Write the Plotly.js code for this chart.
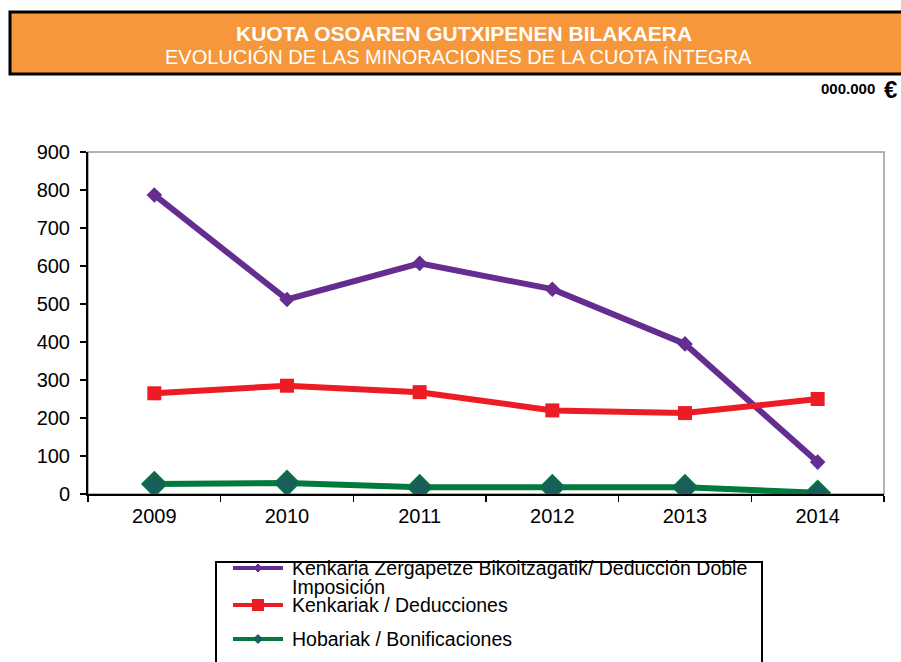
<!DOCTYPE html>
<html>
<head>
<meta charset="utf-8">
<script src="https://cdn.plot.ly/plotly-3.0.1.min.js"></script>
<style>html,body{margin:0;padding:0;background:#fff;}#chart{width:901px;height:662px;}</style>
</head>
<body>
<div id="chart"></div>
<script>
var years = ['2009', '2010', '2011', '2012', '2013', '2014'];
var dobleImposicion = [787, 512, 607, 539, 395, 84];
var deducciones = [265, 285, 268, 220, 213, 250];
var bonificaciones = [26, 29, 18, 18, 18, 3];
var seriesNames = [
  'Kenkaria Zergapetze Bikoitzagatik/ Deducción Doble',
  'Kenkariak / Deducciones',
  'Hobariak / Bonificaciones'
];
var seriesNameWrap = 'Imposición';
var seriesColors = ['#662D91', '#ED1C24', '#007A3D'];
var yTicks = [0, 100, 200, 300, 400, 500, 600, 700, 800, 900];

var FONT = 'Liberation Sans, Arial, sans-serif';

var traces = [
  {
    x: years, y: dobleImposicion, name: seriesNames[0], type: 'scatter', mode: 'lines+markers',
    line: {color: seriesColors[0], width: 6},
    marker: {symbol: 'diamond', size: 12, color: seriesColors[0]},
    showlegend: false
  },
  {
    x: years, y: deducciones, name: seriesNames[1], type: 'scatter', mode: 'lines+markers',
    line: {color: seriesColors[1], width: 6},
    marker: {symbol: 'square', size: 14, color: seriesColors[1]},
    showlegend: false
  },
  {
    x: years, y: bonificaciones, name: seriesNames[2], type: 'scatter', mode: 'lines+markers',
    line: {color: seriesColors[2], width: 6},
    marker: {symbol: 'diamond', size: 19, color: '#1A5E5C', line: {color: seriesColors[2], width: 1.5}},
    showlegend: false
  }
];

var L = 88, R = 884, T = 152, B = 494;
function px(v) { return (v - L) / (R - L); }
function py(v) { return (B - v) / (B - T); }

// Legend (drawn as a key box below the plot)
var legendRows = [568, 605, 639];
var shapes = [
  {type: 'rect', xref: 'paper', yref: 'paper', x0: 0, x1: 1, y0: 0, y1: 1,
   line: {color: '#999', width: 1.5}, layer: 'below'},
  {type: 'rect', xref: 'paper', yref: 'paper', x0: px(10), x1: px(910), y0: py(74), y1: py(12),
   fillcolor: '#F6973B', line: {color: '#000', width: 3}, layer: 'below'},
  {type: 'rect', xref: 'paper', yref: 'paper', x0: px(216), x1: px(762), y0: py(675), y1: py(562),
   fillcolor: '#fff', line: {color: '#000', width: 2}, layer: 'above'}
];
function diamondPath(cx, cy, r) {
  return 'M' + px(cx - r) + ',' + py(cy) + ' L' + px(cx) + ',' + py(cy - r) +
         ' L' + px(cx + r) + ',' + py(cy) + ' L' + px(cx) + ',' + py(cy + r) + ' Z';
}
legendRows.forEach(function (ry, i) {
  shapes.push({type: 'line', xref: 'paper', yref: 'paper', x0: px(233), x1: px(283), y0: py(ry), y1: py(ry),
               line: {color: seriesColors[i], width: 4}, layer: 'above'});
});
shapes.push({type: 'path', xref: 'paper', yref: 'paper', path: diamondPath(258, legendRows[0], 4),
             fillcolor: seriesColors[0], line: {color: seriesColors[0], width: 1}, layer: 'above'});
shapes.push({type: 'rect', xref: 'paper', yref: 'paper', x0: px(252), x1: px(264),
             y0: py(legendRows[1] + 6), y1: py(legendRows[1] - 6),
             fillcolor: seriesColors[1], line: {color: seriesColors[1], width: 0}, layer: 'above'});
shapes.push({type: 'path', xref: 'paper', yref: 'paper', path: diamondPath(258, legendRows[2], 4.5),
             fillcolor: '#1A5E5C', line: {color: '#1A5E5C', width: 1}, layer: 'above'});

var annotations = [
  {xref: 'paper', yref: 'paper', x: px(464), y: py(33), xanchor: 'center', yanchor: 'middle',
   showarrow: false, text: '<b>KUOTA OSOAREN GUTXIPENEN BILAKAERA</b>',
   font: {family: FONT, size: 21, color: '#fff'}},
  {xref: 'paper', yref: 'paper', x: px(458), y: py(57), xanchor: 'center', yanchor: 'middle',
   showarrow: false, text: 'EVOLUCIÓN DE LAS MINORACIONES DE LA CUOTA ÍNTEGRA',
   font: {family: FONT, size: 20, color: '#fff'}},
  {xref: 'paper', yref: 'paper', x: px(877), y: py(88), xanchor: 'right', yanchor: 'middle',
   showarrow: false, text: '<b>000.000</b>',
   font: {family: FONT, size: 15, color: '#000'}},
  {xref: 'paper', yref: 'paper', x: px(882), y: py(89), xanchor: 'left', yanchor: 'middle',
   showarrow: false, text: '<b>€</b>',
   font: {family: FONT, size: 24, color: '#000'}}
];
var legendTexts = [
  {t: seriesNames[0], y: 568},
  {t: seriesNameWrap, y: 587},
  {t: seriesNames[1], y: 605},
  {t: seriesNames[2], y: 639}
];
legendTexts.forEach(function (e) {
  annotations.push({xref: 'paper', yref: 'paper', x: px(291), y: py(e.y), xanchor: 'left', yanchor: 'middle',
                    showarrow: false, borderpad: 0, text: e.t, font: {family: FONT, size: 19.5, color: '#000'}});
});

var layout = {
  width: 901, height: 662,
  margin: {l: L, r: 901 - R, t: T, b: 662 - B, autoexpand: false},
  paper_bgcolor: '#fff', plot_bgcolor: '#fff',
  font: {family: FONT, color: '#000'},
  showlegend: false,
  xaxis: {
    type: 'category', range: [-0.5, 5.5], fixedrange: true,
    showline: true, linecolor: '#000', linewidth: 2,
    ticks: 'outside', tickson: 'boundaries', ticklen: 6, tickcolor: '#000', tickwidth: 1.5,
    showgrid: false, zeroline: false, ticklabelstandoff: 3,
    tickfont: {family: FONT, size: 20, color: '#000'}
  },
  yaxis: {
    range: [0, 900], tickvals: yTicks, ticktext: yTicks.map(String), fixedrange: true,
    showline: true, linecolor: '#000', linewidth: 2,
    ticks: 'outside', ticklen: 6, tickcolor: '#000', tickwidth: 1.5,
    showgrid: false, zeroline: false, ticklabelstandoff: 6,
    tickfont: {family: FONT, size: 20, color: '#000'}
  },
  shapes: shapes,
  annotations: annotations
};

Plotly.newPlot('chart', traces, layout, {staticPlot: true, displayModeBar: false});
</script>
</body>
</html>
